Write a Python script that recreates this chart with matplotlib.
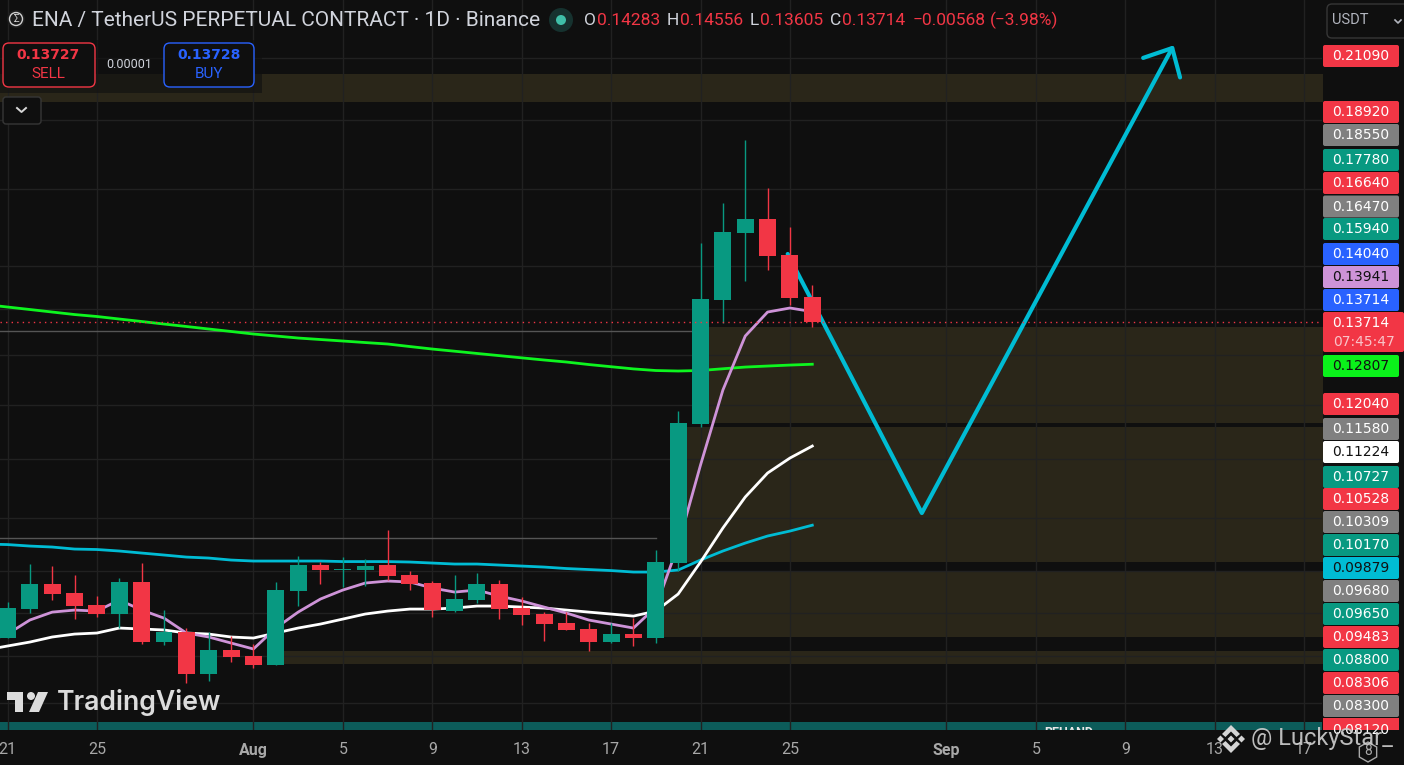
import matplotlib
matplotlib.use("Agg")
import matplotlib.pyplot as plt
from matplotlib.patches import Circle, FancyBboxPatch, Polygon, Rectangle, RegularPolygon

BG = "#0f0f0f"
UP = "#089981"
DOWN = "#f23645"
BLUE = "#2962ff"
ZONE = "#2a2619"
GRID = "#212121"
GRAY = "#808080"

# daily candles, index 0 = Jul 21
opens = [.08235, .08629, .08985, .08855, .08685, .08560, .09014, .08182, .08315, .07771, .08077, .08000, .07885,
         .08884, .09264, .09190, .09190, .09264, .09116, .08999, .08601, .08756, .08985, .08643, .08560, .08437,
         .08356, .08182, .08288, .08235, .09294, .11630, .14203, .15826, .16187, .15274, .14283]
highs = [.08727, .09279, .09249, .09116, .08812, .09072, .09294, .08615, .08369, .08315, .08262, .08156, .09014,
         .09399, .09309, .09384, .09354, .09802, .09175, .09028, .09116, .09146, .09043, .08798, .08587, .08587,
         .08437, .08437, .08504, .09491, .11876, .15572, .16611, .18386, .17017, .15980, .14556]
lows = [.08235, .08574, .08756, .08491, .08518, .08369, .08156, .08143, .07658, .07685, .07923, .07847, .07885,
        .08671, .08985, .08942, .08956, .09043, .08898, .08518, .08587, .08713, .08491, .08410, .08195, .08343,
        .08064, .08169, .08130, .08169, .09175, .11574, .13687, .14647, .14909, .14091, .13605]
closes = [.08643, .08985, .08841, .08671, .08560, .09014, .08182, .08315, .07771, .08077, .07987, .07885, .08898,
          .09264, .09190, .09205, .09249, .09101, .08985, .08615, .08770, .08985, .08629, .08546, .08423, .08343,
          .08182, .08288, .08235, .09309, .11649, .14228, .15851, .16187, .15249, .14250, .13714]

# moving averages, first value is the bar before the left edge (index -1)
ma_purple = [.08182, .08288, .08478, .08587, .08615, .08601, .08756, .08615, .08504, .08302, .08249, .08169, .08091,
             .08369, .08587, .08770, .08898, .08999, .09028, .09014, .08927, .08869, .08898, .08812, .08742, .08657,
             .08574, .08478, .08423, .08369, .08657, .09568, .10886, .12285, .13403, .13932, .14023, .13941]
ma_white = [.08077, .08130, .08182, .08249, .08288, .08302, .08369, .08356, .08343, .08302, .08288, .08249, .08235,
            .08302, .08369, .08423, .08491, .08560, .08601, .08629, .08629, .08643, .08671, .08671, .08657, .08643,
            .08615, .08587, .08560, .08532, .08601, .08841, .09309, .09834, .10338, .10746, .11009, .11224]
ma_cyan = [.09583, .09575, .09552, .09537, .09506, .09499, .09476, .09445, .09415, .09384, .09369, .09339, .09324,
           .09324, .09324, .09324, .09316, .09316, .09316, .09309, .09294, .09279, .09279, .09264, .09249, .09234,
           .09212, .09197, .09182, .09160, .09160, .09190, .09339, .09476, .09598, .09708, .09786, .09879]
ma_green = [.14102, .14045, .13989, .13932, .13876, .13832, .13776, .13721, .13665, .13611, .13556, .13502, .13447,
            .13404, .13360, .13328, .13296, .13263, .13232, .13178, .13125, .13079, .13032, .12986, .12940, .12895,
            .12853, .12801, .12756, .12711, .12678, .12668, .12678, .12714, .12749, .12770, .12790, .12807]

# hand drawn projection and arrow head
path_x = [34.9, 40.9, 52.1]
path_y = [.15299, .10075, .21327]
head_x = [50.8, 52.1, 52.45]
head_y = [.20990, .21327, .20340]

# supply / demand boxes: start bar, low, high
zone_start = [-1, 31, 30, 29, 12]
zone_low = [.19549, .11649, .09309, .08249, .07898]
zone_high = [.20452, .13599, .11574, .09175, .08064]

tick_pos = [0, 4, 11, 15, 19, 23, 27, 31, 35, 42, 46, 50, 54, 58]
tick_text = ["21", "25", "Aug", "5", "9", "13", "17", "21", "25", "Sep", "5", "9", "13", "17"]
grid_prices = [.21, .19, .17, .15, .14, .13, .12, .11, .10, .0918, .0857, .08, .0742]

tag_values = ["0.21090", "0.18920", "0.18550", "0.17780", "0.16640", "0.16470", "0.15940", "0.14040", "0.13941",
              "0.13714", "0.12807", "0.12040", "0.11580", "0.11224", "0.10727", "0.10528", "0.10309", "0.10170",
              "0.09879", "0.09680", "0.09650", "0.09483", "0.08800", "0.08306", "0.08300"]
tag_colors = [DOWN, DOWN, GRAY, UP, DOWN, GRAY, UP, BLUE, "#ce93d8", BLUE, "#0af21a", DOWN, GRAY, "#ffffff", UP, DOWN,
              GRAY, UP, "#00bcd4", GRAY, UP, DOWN, UP, DOWN, GRAY]
tag_centers = [56, 112, 135, 160, 183, 206.5, 229, 254, 277, 300, 366, 404, 429, 452, 477, 499, 522, 545, 568, 591,
               614, 637, 660, 683, 706]
dark_text = {"#ce93d8", "#0af21a", "#ffffff", "#00bcd4"}

plt.rcParams["font.family"] = ["Roboto", "DejaVu Sans"]

fig = plt.figure(figsize=(14.04, 7.65), dpi=100, facecolor=BG)
ax = fig.add_axes([0, 35 / 765, 1322 / 1404, 730 / 765], facecolor=BG)
ax.set_yscale("log")
ax.set_xlim(-0.336, 58.8)
ax.set_ylim(.07100, .23045)

for start, low, high in zip(zone_start, zone_low, zone_high):
    ax.fill_between([start, 60], low, high, color=ZONE, lw=0, zorder=1)
ax.axhspan(.0650, .07192, color="#0c5c5a", lw=0, zorder=1.2)

ax.set_yticks(grid_prices, labels=[])
ax.minorticks_off()
ax.set_xticks(tick_pos, labels=tick_text)
ax.tick_params(axis="both", length=0)
ax.tick_params(axis="x", pad=9, labelcolor="#a8a8a8", labelsize=11.5)
for lab in ax.get_xticklabels():
    if lab.get_text() in ("Aug", "Sep"):
        lab.set_fontweight("bold")
ax.grid(True, color=GRID, lw=1)
ax.set_axisbelow("line")
for s in ax.spines.values():
    s.set_visible(False)

# horizontal rays left on the chart
ax.plot([-1, 29], [.0968, .0968], color="#555555", lw=1, zorder=1.6)
ax.plot([-1, 31], [.13512, .13512], color="#555555", lw=1, zorder=1.6)

xs = list(range(-1, 37))
ax.plot(path_x, path_y, color="#00bcd4", lw=3, zorder=2, solid_capstyle="round", solid_joinstyle="round")
ax.plot(head_x, head_y, color="#00bcd4", lw=3, zorder=2, solid_capstyle="round", solid_joinstyle="round")
ax.plot(xs, ma_green, color="#0df51f", lw=2, zorder=2.1)
ax.plot(xs, ma_cyan, color="#00bcd4", lw=2, zorder=2.1)
ax.plot(xs, ma_white, color="#ffffff", lw=2, zorder=2.1)
ax.plot(xs, ma_purple, color="#ce93d8", lw=2, zorder=2.1)

candle_x = list(range(len(opens)))
colors = [UP if c >= o else DOWN for o, c in zip(opens, closes)]
ax.vlines(candle_x, lows, highs, colors=colors, lw=1, zorder=3)
bottoms = [min(o, c) for o, c in zip(opens, closes)]
heights = [abs(c - o) for o, c in zip(opens, closes)]
ax.bar(candle_x, heights, bottom=bottoms, width=0.76, color=colors, lw=0, zorder=3)

ax.axhline(closes[-1], color=DOWN, lw=1, ls=(0, (1, 3)), zorder=3.2)
ax.text(47.45, .0707, "REHAND", color="#e8e8e8", fontsize=9, fontweight="bold", ha="center", va="center",
        clip_on=True, zorder=3)

# everything around the chart is placed in pixels on a full-figure layer
ui = fig.add_axes([0, 0, 1, 1], facecolor="none")
ui.set_xlim(0, 1404)
ui.set_ylim(765, 0)
ui.axis("off")


def box(x0, y0, x1, y1, face, edge="none", round_px=2, lw=1):
    ui.add_patch(FancyBboxPatch((x0 + round_px, y0 + round_px), x1 - x0 - 2 * round_px, y1 - y0 - 2 * round_px,
                                boxstyle=f"round,pad={round_px},rounding_size={round_px}",
                                fc=face, ec=edge, lw=lw, mutation_aspect=1))


def label(x, y, s, color="#d1d4dc", size=12, ha="center", **kw):
    return ui.text(x, y, s, color=color, fontsize=size, ha=ha, va="center", **kw)


# price tags
for v, col, yc in zip(tag_values, tag_colors, tag_centers):
    box(1323, yc - 11, 1399, yc + 11, col)
    label(1361, yc, v, "#111111" if col in dark_text else "#ffffff", 10, family="DejaVu Sans")
ui.add_patch(Rectangle((1323, 718), 76, 12, fc=DOWN, lw=0))
t = label(1361, 730, "0.08120", "#ffffff", 10, family="DejaVu Sans")
t.set_clip_path(Rectangle((1323, 718), 76, 12, transform=ui.transData))
box(1323, 312, 1404, 352, DOWN)
label(1361, 323, "0.13714", "#ffffff", 10, family="DejaVu Sans")
label(1364, 342, "07:45:47", "#f9c3c8", 10, family="DejaVu Sans")

# USDT box
box(1327, 4, 1412, 38, BG, "#363636", 5)
label(1350, 20, "USDT", "#b2b5be", 10.5)
ui.plot([1395, 1398, 1401], [20, 23, 20], color="#b2b5be", lw=1.2)

# header
ui.add_patch(Circle((16, 19), 9, fc="#1c1c1c", lw=0))
ui.add_patch(Circle((16, 19), 6.5, fc="none", ec="#d0d0d0", lw=1))
label(16, 19, "Σ", "#d0d0d0", 7)
label(32, 20, "ENA / TetherUS PERPETUAL CONTRACT · 1D · Binance", "#d1d4dc", 15, ha="left")
ui.add_patch(Circle((561, 20), 12, fc="#16322f", lw=0))
ui.add_patch(Circle((561, 20), 5, fc="#3fbfa8", lw=0))
ohlc_keys = ["O", "H", "L", "C"]
ohlc_key_x = [584, 667, 750, 830]
ohlc_vals = [opens[-1], highs[-1], lows[-1], closes[-1]]
ohlc_val_x = [597, 680, 760, 842]
for k, kx, val, vx in zip(ohlc_keys, ohlc_key_x, ohlc_vals, ohlc_val_x):
    label(kx, 20, k, "#d1d4dc", 12.5, ha="left")
    label(vx, 20, f"{val:.5f}", DOWN, 12.5, ha="left")
label(913, 20, "−0.00568", DOWN, 12.5, ha="left")
label(990, 20, "(−3.98%)", DOWN, 12.5, ha="left")

# buy / sell panel
ui.add_patch(Rectangle((0, 40), 262, 53, fc=BG, alpha=0.6, lw=0))
box(3, 43, 95, 87, BG, DOWN, 6)
label(48, 55, "0.13727", DOWN, 10, fontweight="bold", family="DejaVu Sans")
label(48, 74, "SELL", DOWN, 11)
label(129, 64, "0.00001", "#d1d4dc", 9)
box(164, 43, 254, 87, BG, BLUE, 6)
label(209, 55, "0.13728", BLUE, 10, fontweight="bold", family="DejaVu Sans")
label(209, 74, "BUY", BLUE, 11)
box(3, 97, 41, 124, BG, "#363636", 3)
ui.plot([17, 21.5, 26], [108, 112, 108], color="#d8d8d8", lw=1.4)

# TradingView logo
LOGO = "#dcdcdc"
ui.add_patch(Polygon([(7, 692), (23, 692), (23, 712), (15, 712), (15, 700), (7, 700)], fc=LOGO, lw=0))
ui.add_patch(Circle((31, 696), 4, fc=LOGO, lw=0))
ui.add_patch(Polygon([(38, 692), (48, 692), (39, 712), (29, 712)], fc=LOGO, lw=0))
label(57, 702, "TradingView", LOGO, 19.2, ha="left", fontweight="semibold", family="Inter")

# watermark
MARK = "#d4d4d4"
ui.add_patch(Polygon([(1231, 725), (1240, 734), (1236.5, 737), (1231, 731.5), (1225.5, 737), (1222, 734)], fc=MARK, lw=0))
ui.add_patch(Polygon([(1231, 753), (1240, 744), (1236.5, 741), (1231, 746.5), (1225.5, 741), (1222, 744)], fc=MARK, lw=0))
for cx, cy in [(1220.5, 739), (1241.5, 739), (1231, 739)]:
    ui.add_patch(RegularPolygon((cx, cy), 4, radius=3.5, orientation=0, fc=MARK, lw=0))
ui.add_patch(RegularPolygon((1368, 752), 6, radius=10, fc="none", ec="#a8a8a8", lw=1))
label(1368, 751, "8", "#a8a8a8", 10)
label(1251, 738, "@ LuckyStar_", "#cfcfcf", 17, ha="left", alpha=0.9)

fig.savefig("out.png", dpi=100, facecolor=BG)
